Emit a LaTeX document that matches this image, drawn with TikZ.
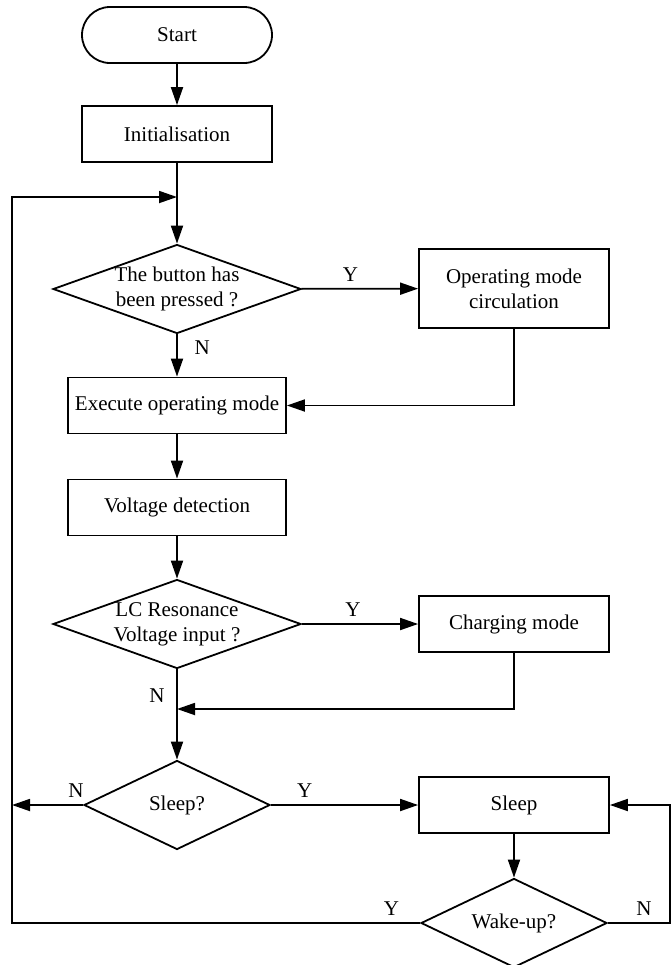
\documentclass[tikz,border=0pt]{standalone}
\usepackage{fontspec}
\setmainfont{Liberation Serif}
\usetikzlibrary{arrows.meta,shapes.geometric}

\begin{document}
\begin{tikzpicture}[x=0.5pt, y=-0.5pt, line width=0.9pt,
	every node/.style={font=\fontsize{10.5}{12.5}\selectfont},
	proc/.style={draw, rectangle, minimum width=95pt, minimum height=28pt, inner sep=2pt, align=center},
	term/.style={proc, rounded corners=14pt},
	cond/.style={draw, diamond, aspect=2.79, inner sep=0pt, minimum width=124pt, minimum height=44.5pt, align=center},
	flow/.style={-{Triangle[length=9pt,width=6pt]}}]
	\useasboundingbox (0,0) rectangle (671,965);
	\node[term] (start) at (177,35) {Start};
	\node[proc] (init) at (177,134) {Initialisation};
	\node[cond] (btn) at (177,289) {The button has\\been pressed ?};
	\node[proc, minimum height=39.5pt] (opmode) at (514,288.5) {Operating mode\\circulation};
	\node[proc, minimum width=109pt] (exec) at (177,405.5) {Execute operating mode};
	\node[proc, minimum width=109pt] (volt) at (177,507.5) {Voltage detection};
	\node[cond] (lc) at (177,624) {LC Resonance\\Voltage input ?};
	\node[proc] (charge) at (514,624) {Charging mode};
	\node[cond, minimum width=93pt, aspect=2.09] (sleepq) at (177,805) {Sleep?};
	\node[proc] (sleep) at (514,805) {Sleep};
	\node[cond, minimum width=93pt, aspect=2.09] (wake) at (514,923) {Wake-up?};
	\coordinate (fb) at (177,197);
	\coordinate (mrg) at (177,709);
	\coordinate (lft) at (12,805);
	\coordinate (bl) at (12,923);
	\coordinate (br) at (670,923);
	% main flow
	\draw[flow] (start) -- (init);
	\draw[flow] (init) -- (btn);
	\draw[flow] (btn) -- node[pos=0.42, above] {Y} (opmode);
	\draw[flow] (btn) -- node[pos=0.31, right, xshift=5pt] {N} (exec);
	\draw[flow] (opmode) |- (exec);
	\draw[flow] (exec) -- (volt);
	\draw[flow] (volt) -- (lc);
	\draw[flow] (lc) -- node[pos=0.44, above] {Y} (charge);
	\draw[flow] (lc) -- node[pos=0.29, left, xshift=-2.5pt] {N} (sleepq);
	\draw[flow] (charge) |- (mrg);
	\draw[flow] (sleepq) -- node[pos=0.23, above] {Y} (sleep);
	\draw[flow] (sleepq) -- node[pos=0.1, above] {N} (lft);
	\draw[flow] (sleep) -- (wake);
	% loops back
	\draw[flow] (wake) -- node[pos=0.07, above] {Y} (bl) |- (fb);
	\draw[flow] (wake) -- node[pos=0.58, above] {N} (br) |- (sleep);
\end{tikzpicture}
\end{document}
